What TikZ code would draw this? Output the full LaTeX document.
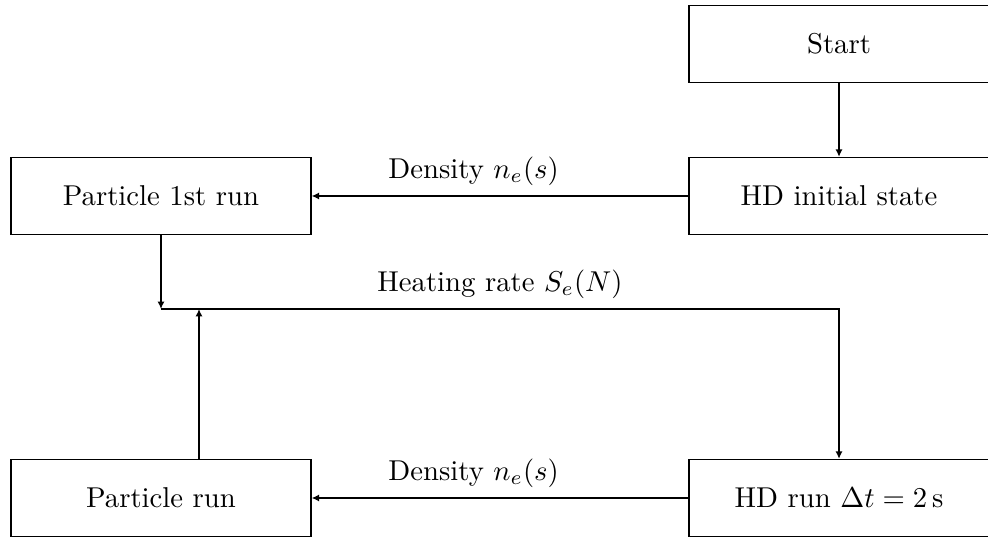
\documentclass[tikz,border=0pt]{standalone}
\usetikzlibrary{arrows.meta,calc}
\begin{document}
\begin{tikzpicture}[x=0.3484pt,y=-0.3484pt,
  box/.style={draw,line width=0.5pt,rectangle,minimum width=104.5pt,minimum height=26.8pt,inner sep=0pt},
  arr/.style={line width=0.5pt,-{Latex[length=2.6pt,width=2.5pt]}},
  lbl/.style={inner sep=3.33pt}]
\useasboundingbox (0,0) rectangle (988,538);
\node[box] (start) at (839,44) {Start};
\node[box] (hdi) at (839,196) {HD initial state};
\node[box] (p1) at (161,196) {Particle 1st run};
\node[box] (prun) at (161,498) {Particle run};
\node[box] (hdrun) at (839,498) {HD run $\Delta t = 2\,\mathrm{s}$};
\coordinate (j) at (161,309);
\coordinate (up) at (199,309);
\draw[arr] (start) -- (hdi);
\draw[arr] (hdi) -- (p1) node[lbl,pos=0.57,above] {Density $n_e(s)$};
\draw[arr] (p1) -- (j);
\draw[arr] (j) -- (j -| hdrun.north) node[lbl,pos=0.5,above] {Heating rate $S_e(N)$} -- (hdrun.north);
\draw[arr] (prun.north -| up) -- (up);
\draw[arr] (hdrun) -- (prun) node[lbl,pos=0.57,above] {Density $n_e(s)$};
\end{tikzpicture}
\end{document}
